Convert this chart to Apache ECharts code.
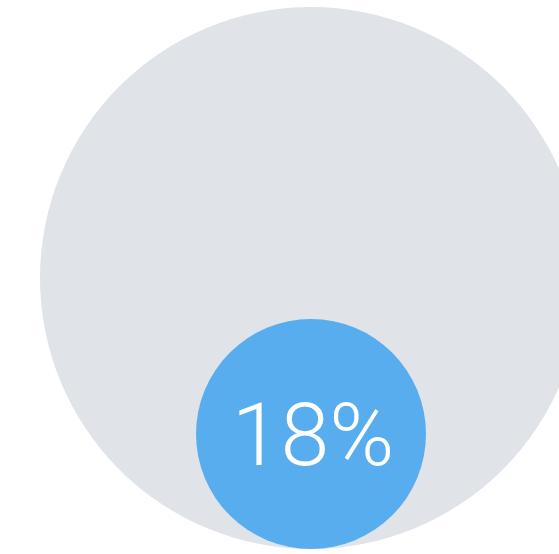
<!DOCTYPE html>
<html>
<head>
<meta charset="utf-8">
<script src="https://cdn.jsdelivr.net/npm/echarts@6/dist/echarts.min.js"></script>
<style>
html,body{margin:0;padding:0;background:#fff;}
#chart{width:559px;height:554px;}
</style>
</head>
<body>
<div id="chart"></div>
<script>
// 数据
var names = ['全部', '占比'];
var values = [100, 18];

var bigR = 271;          // 大圆半径
var cx = 311;            // 圆心x
var bottom = 549;        // 两圆底部相切处
var smallR = bigR * Math.sqrt(values[1] / values[0]); // 面积成比例

var myChart = echarts.init(document.getElementById('chart'));
var option = {
	animation: false,
	series: [{
		name: names[0],
		type: 'pie',
		silent: true,
		center: [cx, bottom - bigR],
		radius: [0, bigR],
		label: { show: false },
		labelLine: { show: false },
		itemStyle: { color: '#e0e3e7', borderWidth: 0 },
		data: [{ name: names[0], value: values[0] }]
	}, {
		name: names[1],
		type: 'pie',
		silent: true,
		center: [cx, bottom - smallR],
		radius: [0, smallR],
		label: {
			show: true,
			position: 'center',
			formatter: '{c}%',
			color: '#fff',
			fontSize: 88,
			fontWeight: 300,
			fontFamily: 'Roboto',
			offset: [2, 9]
		},
		labelLine: { show: false },
		itemStyle: { color: '#58adee', borderWidth: 0 },
		data: [{ name: names[1], value: values[1] }]
	}]
};
myChart.setOption(option);

window.addEventListener('resize', function () {
	myChart.resize();
});
</script>
</body>
</html>
